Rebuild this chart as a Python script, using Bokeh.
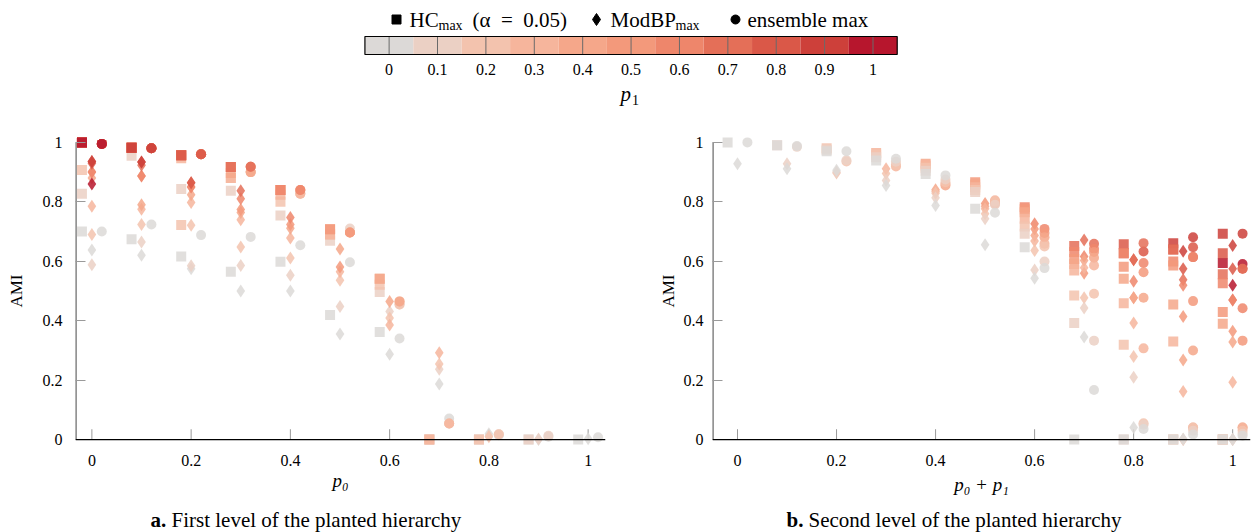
from bokeh.plotting import figure
from bokeh.models import Range1d, FixedTicker, ColumnDataSource, LinearColorMapper, Span
from bokeh.layouts import column, row
from bokeh.embed import file_html
from bokeh.resources import INLINE
from bokeh.core.properties import value

SERIF = "Liberation Serif"

# ---------------- data ----------------
P0_VALUES = [0.0, 0.1, 0.2, 0.3, 0.4, 0.5, 0.6, 0.7, 0.8, 0.9, 1.0]
P1_VALUES = [0.0, 0.1, 0.2, 0.3, 0.4, 0.5, 0.6, 0.7, 0.8, 0.9, 1.0]
SUM_VALUES = [0.0, 0.1, 0.2, 0.3, 0.4, 0.5, 0.6, 0.7, 0.8, 0.9, 1.0]
P1_COLORS = ["#dcd9d7", "#ebd0c4", "#f3c3ae", "#f6b59c", "#f5a78a", "#f3997b",
             "#ee866b", "#e46f58", "#da5848", "#cd403a", "#b7162d"]
TICKS = [0, 0.2, 0.4, 0.6, 0.8, 1]
TICK_LABELS = ["0", "0.2", "0.4", "0.6", "0.8", "1"]
CBAR_TICK_LABELS = ["0", "0.1", "0.2", "0.3", "0.4", "0.5", "0.6", "0.7", "0.8", "0.9", "1"]

# Left panel (first level): rows per p0, entries for p1 = 0, 0.1, ... (p0 + p1 <= 1)
LEFT_HC = [
    [0.70, 0.827, 0.907, 1.0, 1.0, 1.0, 1.0, 1.0, 1.0, 1.0, 1.0],
    [0.674, 0.955, 0.982, 0.982, 0.982, 0.982, 0.982, 0.982, 0.982, 0.982],
    [0.616, 0.843, 0.722, 0.947, 0.957, 0.957, 0.957, 0.957, 0.957],
    [0.565, 0.837, 0.88, 0.88, 0.897, 0.917, 0.917, 0.917],
    [0.598, 0.754, 0.80, 0.824, 0.84, 0.84, 0.84],
    [0.419, 0.669, 0.69, 0.69, 0.708, 0.708],
    [0.362, 0.497, 0.521, 0.541, 0.541],
    [0.0, 0.0, 0.0, 0.0],
    [0.0, 0.0, 0.0],
    [0.0, 0.0],
    [0.0],
]
LEFT_MOD = [
    [0.638, 0.588, 0.69, 0.785, 0.88, 0.90, 0.90, 0.936, 0.93, 0.936, 0.86],
    [0.62, 0.665, 0.724, 0.775, 0.79, 0.887, 0.887, 0.923, 0.934, 0.934],
    [0.575, 0.585, 0.721, 0.798, 0.824, 0.85, 0.85, 0.864, 0.864],
    [0.50, 0.586, 0.648, 0.74, 0.764, 0.774, 0.81, 0.837],
    [0.50, 0.553, 0.611, 0.678, 0.711, 0.724, 0.747],
    [0.355, 0.448, 0.536, 0.565, 0.641, 0.581],
    [0.287, 0.431, 0.409, 0.386, 0.465],
    [0.187, 0.237, 0.254, 0.292],
    [0.02, 0.012, 0.01],
    [0.0, 0.002],
    [0.003],
]
LEFT_ENS = [
    [0.70, 0.995, 0.995, 0.995, 0.995, 0.995, 0.995, 0.995, 0.995, 0.995, 0.995],
    [0.724, 0.98, 0.98, 0.98, 0.98, 0.98, 0.98, 0.98, 0.98, 0.98],
    [0.688, 0.96, 0.96, 0.96, 0.96, 0.96, 0.96, 0.96, 0.96],
    [0.682, 0.90, 0.90, 0.90, 0.90, 0.918, 0.918, 0.918],
    [0.654, 0.827, 0.827, 0.827, 0.84, 0.84, 0.84],
    [0.597, 0.71, 0.697, 0.697, 0.697, 0.697],
    [0.34, 0.455, 0.455, 0.465, 0.465],
    [0.071, 0.054, 0.054, 0.054],
    [0.015, 0.018, 0.018],
    [0.01, 0.013],
    [0.008],
]

# Right panel (second level): rows per p0 + p1, entries for p1 = 0, 0.1, ..., p0 + p1
RIGHT_HC = [
    [1.0],
    [0.99, 0.99],
    [0.97, 0.975, 0.98],
    [0.939, 0.95, 0.958, 0.964],
    [0.894, 0.905, 0.915, 0.922, 0.928],
    [0.777, 0.833, 0.84, 0.849, 0.858, 0.866],
    [0.647, 0.693, 0.717, 0.743, 0.765, 0.775, 0.782],
    [0.0, 0.392, 0.485, 0.569, 0.591, 0.608, 0.631, 0.651],
    [0.0, 0.0, 0.319, 0.459, 0.541, 0.582, 0.627, 0.627, 0.657],
    [0.0, 0.0, 0.0, 0.33, 0.455, 0.586, 0.599, 0.64, 0.64, 0.661],
    [0.0, 0.0, 0.0, 0.0, 0.39, 0.429, 0.526, 0.556, 0.627, 0.693, 0.594],
]
RIGHT_MOD = [
    [0.928],
    [0.911, 0.928],
    [0.906, 0.90, 0.897],
    [0.855, 0.872, 0.895, 0.911],
    [0.788, 0.814, 0.829, 0.835, 0.841],
    [0.656, 0.743, 0.76, 0.777, 0.785, 0.794],
    [0.543, 0.571, 0.636, 0.668, 0.687, 0.709, 0.726],
    [0.345, 0.443, 0.477, 0.578, 0.603, 0.56, 0.616, 0.672],
    [0.041, 0.21, 0.28, 0.392, 0.477, 0.477, 0.533, 0.605, 0.605],
    [0.002, 0.0, 0.0, 0.162, 0.268, 0.414, 0.519, 0.538, 0.575, 0.634],
    [0.0, 0.0, 0.0, 0.193, 0.328, 0.365, 0.47, 0.47, 0.575, 0.653, 0.519],
]
RIGHT_ENS = [
    [1.0],
    [0.988, 0.985],
    [0.97, 0.94, 0.936],
    [0.945, 0.935, 0.925, 0.919],
    [0.889, 0.875, 0.866, 0.86, 0.855],
    [0.763, 0.79, 0.80, 0.805, 0.80, 0.794],
    [0.577, 0.599, 0.65, 0.659, 0.681, 0.695, 0.709],
    [0.167, 0.333, 0.491, 0.586, 0.612, 0.631, 0.642, 0.659],
    [0.036, 0.05, 0.055, 0.307, 0.477, 0.563, 0.594, 0.661, 0.633],
    [0.017, 0.03, 0.041, 0.041, 0.30, 0.466, 0.614, 0.614, 0.647, 0.681],
    [0.013, 0.02, 0.03, 0.041, 0.041, 0.333, 0.442, 0.575, 0.575, 0.693, 0.591],
]

SERIES = [("square", -0.02, 10), ("diamond", 0.0, 13), ("circle", 0.02, 10)]

mapper = LinearColorMapper(palette=P1_COLORS, low=-0.05, high=1.05)


def build_source(groups, values, offset, p1_descending):
    xs, ys, p1s = [], [], []
    for g, rowvals in zip(groups, values):
        idx = list(range(len(rowvals)))
        if p1_descending:
            idx = idx[::-1]
        for j in idx:
            xs.append(g + offset)
            ys.append(rowvals[j])
            p1s.append(P1_VALUES[j])
    return ColumnDataSource(dict(x=xs, y=ys, p1=p1s))


def make_panel(width, xr, mb_left, mb_right, mb_bottom, xlabel, y_lab_standoff,
               y_axlab_standoff, x_axlab_standoff, tick_len, data, p1_desc):
    p = figure(width=width, height=393, x_range=Range1d(*xr), y_range=Range1d(-0.04, 1.04),
               output_backend="svg", toolbar_location=None,
               min_border_left=mb_left, min_border_right=mb_right,
               min_border_top=18, min_border_bottom=mb_bottom)
    p.outline_line_color = None
    p.grid.visible = False
    # x axis line at AMI = 0 and inward ticks
    p.add_layout(Span(location=0, dimension="width", line_color="black", line_width=1.2))
    p.segment(x0=TICKS, y0=0, x1=TICKS, y1=tick_len, line_color="#9a9a9a", line_width=1)
    # y axis line only from 0 to 1
    p.segment(x0=[xr[0]], y0=[0], x1=[xr[0]], y1=[1], line_color="#666666", line_width=2.4)
    for (marker, off, size), vals in zip(SERIES, data):
        src = build_source(SUM_VALUES if p1_desc else P0_VALUES, vals, off, p1_desc)
        p.scatter(x="x", y="y", source=src, marker=marker, size=size,
                  fill_color={"field": "p1", "transform": mapper}, line_color=None,
                  fill_alpha=0.85)

    for ax in (p.xaxis[0], p.yaxis[0]):
        ax.ticker = FixedTicker(ticks=TICKS)
        ax.major_label_overrides = dict(zip(TICKS, TICK_LABELS))
        ax.major_label_text_font = SERIF
        ax.major_label_text_font_size = "16px"
        ax.major_label_text_color = "black"
        ax.axis_label_text_font = SERIF
        ax.axis_label_text_color = "black"
        ax.minor_tick_line_color = None
    xa = p.xaxis[0]
    xa.axis_line_color = None
    xa.major_tick_line_color = None
    xa.major_tick_in = 0
    xa.major_tick_out = 0
    xa.axis_label = xlabel
    xa.axis_label_text_font_style = "italic"
    xa.axis_label_text_font_size = "19px"
    xa.major_label_standoff = 3
    xa.axis_label_standoff = x_axlab_standoff
    ya = p.yaxis[0]
    ya.axis_line_color = None
    ya.major_tick_in = 10
    ya.major_tick_out = 0
    ya.major_tick_line_color = "#9a9a9a"
    ya.axis_label = "AMI"
    ya.axis_label_text_font_style = "normal"
    ya.axis_label_text_font_size = "17px"
    ya.major_label_standoff = y_lab_standoff
    ya.axis_label_standoff = y_axlab_standoff
    return p


left = make_panel(626, (-0.033, 1.035), 75, 21, 50, "p₀", 13, 14, 1, 0.035,
                  [LEFT_HC, LEFT_MOD, LEFT_ENS], False)
right = make_panel(627, (-0.0505, 1.036), 86, 3, 54, "p₀ + p₁", 9, 3, 5, 0.035,
                   [RIGHT_HC, RIGHT_MOD, RIGHT_ENS], True)

# ---------------- top: legend + colour bar ----------------
top = figure(width=1253, height=112, x_range=Range1d(-0.8031, 1.7863), y_range=Range1d(112, 0),
             output_backend="svg", toolbar_location=None, x_axis_type=None, y_axis_type=None,
             min_border=0)
top.extra_x_ranges = {"px": Range1d(0, 1253)}
top.outline_line_color = None
top.grid.visible = False

top.scatter(x=[396, 596, 735], y=[19, 19, 19], marker=["square", "diamond", "circle"],
            size=[9, 12, 9], color="black", x_range_name="px")
top.text(x=[409, 472, 610, 747], y=[19.5, 19.5, 19.5, 19.5],
         text=["HC", "(α\u2002=\u20020.05)", "ModBP", "ensemble max"],
         text_font=value(SERIF), text_font_size="21px", text_baseline="middle",
         text_align="left", text_color="black", x_range_name="px")
top.text(x=[438, 675], y=[25, 25], text=["max", "max"], text_font=value(SERIF),
         text_font_size="14px", text_baseline="middle", text_align="left",
         text_color="black", x_range_name="px")

cbar = ColumnDataSource(dict(left=[v - 0.05 for v in P1_VALUES], right=[v + 0.05 for v in P1_VALUES],
                             p1=P1_VALUES, lab=CBAR_TICK_LABELS))
top.quad(left="left", right="right", top=36, bottom=54, source=cbar,
         fill_color={"field": "p1", "transform": mapper}, line_color=None)
top.segment(x0="p1", y0=36, x1="p1", y1=54, source=cbar, line_color="#6a6a6a", line_width=1)
top.quad(left=[P1_VALUES[0] - 0.05], right=[P1_VALUES[-1] + 0.05], top=[36], bottom=[54],
         fill_color=None, line_color="black", line_width=1.2)
top.text(x="p1", y=69, text="lab", source=cbar, text_font=value(SERIF), text_font_size="16px",
         text_align="center", text_baseline="middle", text_color="black")
top.text(x=[620], y=[93], text=["p"], text_font=value(SERIF), text_font_size="21px",
         text_font_style="italic", text_baseline="middle", text_align="left",
         text_color="black", x_range_name="px")
top.text(x=[631.5], y=[99], text=["1"], text_font=value(SERIF), text_font_size="14px",
         text_baseline="middle", text_align="left", text_color="black", x_range_name="px")

# ---------------- bottom: captions ----------------
bottom = figure(width=1253, height=27, x_range=Range1d(0, 1253), y_range=Range1d(27, 0),
                output_backend="svg", toolbar_location=None, x_axis_type=None, y_axis_type=None,
                min_border=0)
bottom.outline_line_color = None
bottom.grid.visible = False
bottom.text(x=[150, 786], y=[14, 14], text=["a.", "b."], text_font=value(SERIF),
            text_font_size="21px", text_font_style="bold", text_baseline="middle",
            text_align="left", text_color="black")
bottom.text(x=[171, 808], y=[14, 14],
            text=["First level of the planted hierarchy", "Second level of the planted hierarchy"],
            text_font=value(SERIF), text_font_size="21px", text_baseline="middle",
            text_align="left", text_color="black")

layout = column(top, row(left, right), bottom)
open("out.html", "w").write(file_html(layout, INLINE))
